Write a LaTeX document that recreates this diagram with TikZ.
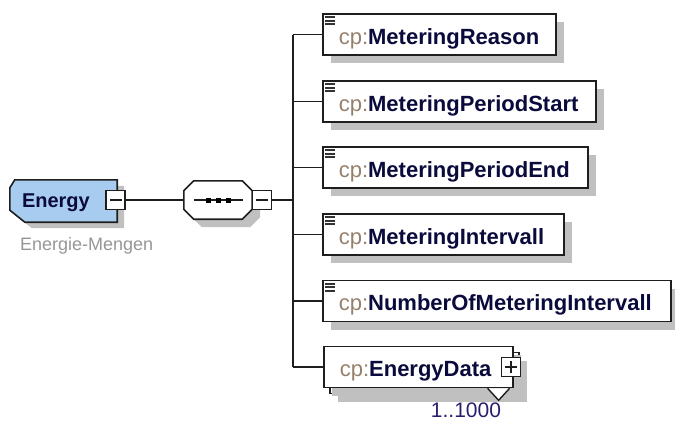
\documentclass[tikz,border=0pt]{standalone}
\usepackage{fontspec}
\setmainfont{Liberation Sans}
\usepackage{tikz}
\usetikzlibrary{positioning, calc, shadows, backgrounds}
\definecolor{shadowgray}{RGB}{192,192,192}
\definecolor{elemblue}{RGB}{168,204,240}
\definecolor{prefixgray}{RGB}{150,128,108}
\definecolor{namenavy}{RGB}{10,10,60}
\definecolor{annotgray}{RGB}{150,150,150}
\definecolor{occurnavy}{RGB}{40,30,110}
\definecolor{border}{RGB}{30,30,30}
\newcommand{\cpname}[1]{\mbox{{\color{prefixgray}cp:}{\bfseries\color{namenavy}#1}}}
\tikzset{
    child/.style={rectangle, draw=border, line width=1.6pt, fill=white, minimum height=41pt, anchor=west, inner xsep=16pt, inner ysep=0pt, text width=#1, align=left, text height=20pt, text depth=1pt, font=\fontsize{22}{26}\selectfont, drop shadow={shadow xshift=8pt, shadow yshift=-8pt, fill=shadowgray, opacity=1}},
    toggle/.style={rectangle, draw=border, line width=1.4pt, fill=white, minimum size=19pt, inner sep=0pt},
    conn/.style={line width=1.6pt, color=border},
    doclines/.style={line width=1.7pt, color=black!80}
}

\begin{document}
\begin{tikzpicture}[x=1pt, y=-1pt]
    \useasboundingbox (0,0) rectangle (675,421);

    % Root element
    \node (energy) [minimum width=107pt, minimum height=42pt, inner xsep=12pt, inner ysep=0pt, text width=83pt, align=left, text height=16pt, text depth=4pt, font=\fontsize{20}{24}\selectfont\bfseries, text=namenavy] at (63.5,201) {Energy};
    \node (energyMinus) [toggle, path picture={\draw[conn] ([xshift=-6pt]path picture bounding box.center) -- ([xshift=6pt]path picture bounding box.center);}] at (115.5,200) {};
    \node (energyNote) [anchor=base west, inner sep=0pt, font=\fontsize{18}{22}\selectfont, text=annotgray] at (20,250) {Energie-Mengen};

    % Sequence compositor
    \node (seq) [minimum width=68pt, minimum height=38pt] at (218,200) {};
    \node (seqMinus) [toggle, path picture={\draw[conn] ([xshift=-6pt]path picture bounding box.center) -- ([xshift=6pt]path picture bounding box.center);}] at (262,200) {};
    \draw [conn] ([xshift=-24pt]seq.center) -- ([xshift=25pt]seq.center);
    \fill [black] ([xshift=-10pt]seq.center) ++(-2.5,-2.5) rectangle ++(5,5);
    \fill [black] (seq.center) ++(-2.5,-2.5) rectangle ++(5,5);
    \fill [black] ([xshift=10pt]seq.center) ++(-2.5,-2.5) rectangle ++(5,5);

    % Child elements
    \node (reason) [child=201pt, minimum width=233pt] at (322,34.5) {\cpname{MeteringReason}};
    \node (periodStart) [child=241pt, minimum width=273pt] at (322,101.5) {\cpname{MeteringPeriodStart}};
    \node (periodEnd) [child=233pt, minimum width=265pt] at (322,167.5) {\cpname{MeteringPeriodEnd}};
    \node (intervall) [child=209pt, minimum width=241pt] at (322,234.5) {\cpname{MeteringIntervall}};
    \node (numIntervall) [child=316pt, minimum width=348pt] at (322,301) {\cpname{NumberOfMeteringIntervall}};
    \node (energyData) [child=157pt, minimum width=189pt, drop shadow={opacity=0}] at (323,367) {\cpname{EnergyData}};
    \node (energyDataPlus) [toggle, path picture={\draw[conn] ([xshift=-6pt]path picture bounding box.center) -- ([xshift=6pt]path picture bounding box.center); \draw[conn] ([yshift=-6pt]path picture bounding box.center) -- ([yshift=6pt]path picture bounding box.center);}] at (511,367) {};
    \draw [line width=1.4pt, color=border, fill=white] ($(energyData.south east)+(-26,0)$) -- ($(energyData.south east)+(-15,12)$) -- ($(energyData.south east)+(-4,0)$);
    \node (occurs) [anchor=base, inner sep=0pt, font=\fontsize{21}{24}\selectfont, text=occurnavy] at (466,417) {1..1000};

    % Document icons
    \foreach \n in {reason, periodStart, periodEnd, intervall, numIntervall} {
        \draw [doclines] ($(\n.north west)+(3,4)$) -- ++(10,0);
        \draw [doclines] ($(\n.north west)+(3,7.5)$) -- ++(10,0);
        \draw [doclines] ($(\n.north west)+(3,11)$) -- ++(10,0);
    }

    % Shapes behind
    \begin{scope}[on background layer]
        \fill [shadowgray] ([shift={(7,6)}]energy.north west) ++(5,0) -- ([shift={(7,6)}]energy.north east) -- ([shift={(7,6)}]energy.south east) -- ([shift={(22,6)}]energy.south west) -- ([shift={(7,-6)}]energy.south west) -- ([shift={(7,14)}]energy.north west) -- cycle;
        \draw [line width=1.6pt, draw=border, fill=elemblue] ($(energy.north west)+(5,0)$) -- (energy.north east) -- (energy.south east) -- ($(energy.south west)+(15,0)$) -- ($(energy.south west)+(0,-12)$) -- ($(energy.north west)+(0,8)$) -- cycle;
        \fill [shadowgray] ([shift={(18,8)}]seq.north west) -- ([shift={(-2,8)}]seq.north east) -- ([shift={(8,18)}]seq.north east) -- ([shift={(8,-2)}]seq.south east) -- ([shift={(-2,8)}]seq.south east) -- ([shift={(18,8)}]seq.south west) -- ([shift={(8,-2)}]seq.south west) -- ([shift={(8,18)}]seq.north west) -- cycle;
        \draw [line width=1.6pt, draw=border, fill=white] ($(seq.north west)+(10,0)$) -- ($(seq.north east)+(-10,0)$) -- ($(seq.north east)+(0,10)$) -- ($(seq.south east)+(0,-10)$) -- ($(seq.south east)+(-10,0)$) -- ($(seq.south west)+(10,0)$) -- ($(seq.south west)+(0,-10)$) -- ($(seq.north west)+(0,10)$) -- cycle;
        \node (energyDataBack) [child=157pt, minimum width=189pt] at ([shift={(6,6)}]energyData.west) {};
    \end{scope}

    % Connectors
    \coordinate (bus) at (293,200);
    \draw [conn] (energyMinus.east) -- (seq.west);
    \draw [conn] (seqMinus.east) -- (bus);
    \draw [conn] (bus |- reason.west) -- (bus |- energyData.west);
    \draw [conn] (bus |- reason.west) -- (reason.west);
    \draw [conn] (bus |- periodStart.west) -- (periodStart.west);
    \draw [conn] (bus |- periodEnd.west) -- (periodEnd.west);
    \draw [conn] (bus |- intervall.west) -- (intervall.west);
    \draw [conn] (bus |- numIntervall.west) -- (numIntervall.west);
    \draw [conn] (bus |- energyData.west) -- (energyData.west);
\end{tikzpicture}
\end{document}
